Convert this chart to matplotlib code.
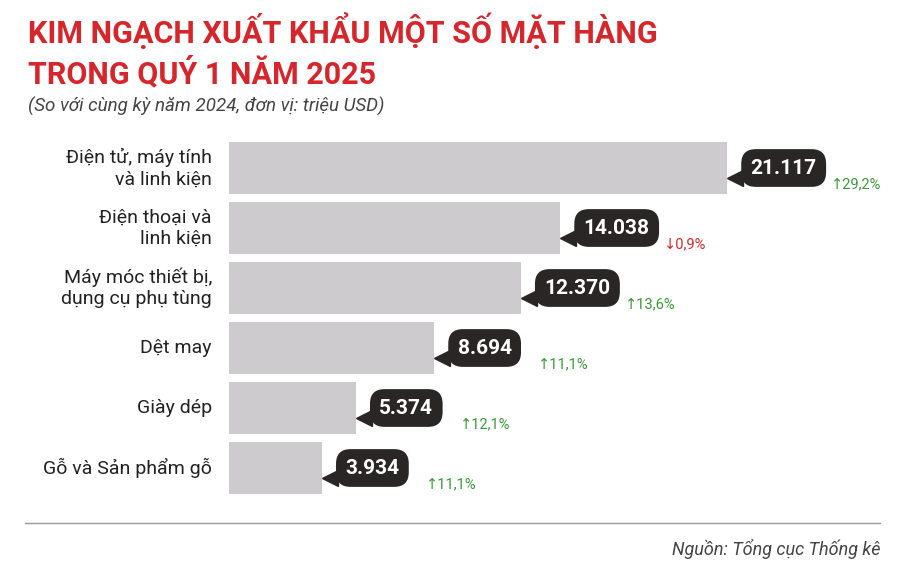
import matplotlib
matplotlib.use("Agg")
import matplotlib.pyplot as plt
from matplotlib.transforms import offset_copy

# ── data ──────────────────────────────────────────────────────────────────────
categories = ["Điện tử, máy tính\nvà linh kiện", "Điện thoại và\nlinh kiện",
              "Máy móc thiết bị,\ndụng cụ phụ tùng", "Dệt may", "Giày dép",
              "Gỗ và Sản phẩm gỗ"]
values     = [21117, 14038, 12370, 8694, 5374, 3934]
value_txt  = ["21.117", "14.038", "12.370", "8.694", "5.374", "3.934"]
changes    = ["29,2%", "0,9%", "13,6%", "11,1%", "12,1%", "11,1%"]
up         = [True, False, True, True, True, True]

RED   = "#d7262b"
GREEN = "#3a9a3a"
DARK  = "#2b2626"
BAR   = "#cdcbcd"

plt.rcParams["font.family"] = ["Roboto", "DejaVu Sans"]

W, H = 900, 568
fig = plt.figure(figsize=(9, 5.68), dpi=100)
fig.patch.set_facecolor("white")

# axes spans pixel x 229..900, y 138..498
ax = fig.add_axes([229 / W, 1 - 498 / H, (W - 229) / W, 360 / H])
ax.set_xlim(0, 21117 * (W - 229) / 498)
ax.set_ylim(5.5, -0.5)
ax.axis("off")

ax.barh(range(len(values)), values, height=0.87, color=BAR)

for i, (v, t, c, u) in enumerate(zip(values, value_txt, changes, up)):
    tr_box = offset_copy(ax.transData, fig=fig, x=17, y=0, units="points")
    ax.text(v, i, t, transform=tr_box, ha="left", va="center", color="white",
            fontsize=15, fontweight="bold",
            bbox=dict(boxstyle="round,pad=0.45,rounding_size=0.7", fc=DARK, ec="none"))
    tr_tri = offset_copy(ax.transData, fig=fig, x=6, y=-7, units="points")
    ax.plot([v], [i], marker="<", markersize=11, color=DARK, transform=tr_tri,
            clip_on=False)
    tr_pct = offset_creat = offset_copy(ax.transData, fig=fig, x=75, y=-12, units="points")
    col = GREEN if u else RED
    ax.text(v, i, ("↑" if u else "↓") + c, transform=tr_pct, ha="left",
            va="center", color=col, fontsize=10.5, clip_on=False)
    ax.text(-17 * 21117 / 498, i, categories[i], ha="right", va="center",
            fontsize=14, color="#222222", linespacing=1.25, clip_on=False)

fig.text(28 / W, 1 - 31 / H, "KIM NGẠCH XUẤT KHẨU MỘT SỐ MẶT HÀNG",
         color=RED, fontsize=22, fontweight="bold", va="center")
fig.text(28 / W, 1 - 73 / H, "TRONG QUÝ 1 NĂM 2025",
         color=RED, fontsize=22, fontweight="bold", va="center")
fig.text(28 / W, 1 - 106 / H, "(So với cùng kỳ năm 2024, đơn vị: triệu USD)",
         color="#444444", fontsize=13.5, style="italic", va="center")

fig.add_artist(plt.Line2D([25 / W, 880 / W], [1 - 523 / H, 1 - 523 / H],
                          color="#999999", lw=1))
fig.text(880 / W, 1 - 549 / H, "Nguồn: Tổng cục Thống kê", color="#444444",
         fontsize=13, style="italic", ha="right", va="center")

fig.savefig("out.png", dpi=100)
